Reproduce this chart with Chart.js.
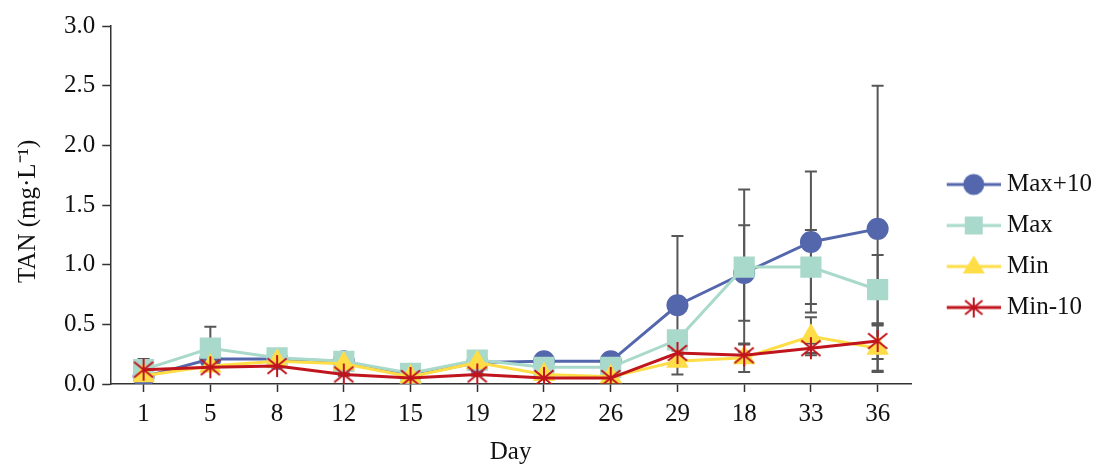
<!DOCTYPE html>
<html>
<head>
<meta charset="utf-8">
<script src="https://cdn.jsdelivr.net/npm/chart.js@4.4.1/dist/chart.umd.min.js"></script>
<style>
  body { margin: 0; background: #fff; }
  #wrap { width: 1099px; height: 465px; }
</style>
</head>
<body>
<div id="wrap"><canvas id="tanChart"></canvas></div>
<script>
// sampling days (in the order the figure shows them)
const days = ['1', '5', '8', '12', '15', '19', '22', '26', '29', '18', '33', '36'];

// TAN means and standard deviations per treatment
const maxPlus10    = [0.06, 0.21, 0.21, 0.19, 0.07, 0.18, 0.19, 0.19, 0.66, 0.93, 1.19, 1.30];
const maxPlus10Err = [0.02, 0.02, 0.02, 0.02, 0.01, 0.02, 0.03, 0.03, 0.58, 0.40, 0.59, 1.20];
const maxVals      = [0.12, 0.30, 0.22, 0.19, 0.09, 0.20, 0.14, 0.14, 0.37, 0.98, 0.98, 0.79];
const maxErr       = [0.09, 0.18, 0.02, 0.02, 0.01, 0.02, 0.01, 0.01, 0.03, 0.65, 0.31, 0.29];
const minVals      = [0.07, 0.15, 0.19, 0.17, 0.06, 0.18, 0.08, 0.06, 0.19, 0.22, 0.40, 0.30];
const minErr       = [0.01, 0.01, 0.01, 0.01, 0.01, 0.01, 0.01, 0.01, 0.02, 0.12, 0.16, 0.19];
const min10Vals    = [0.12, 0.14, 0.15, 0.08, 0.05, 0.08, 0.05, 0.05, 0.26, 0.24, 0.30, 0.36];
const min10Err     = [0.01, 0.01, 0.01, 0.01, 0.01, 0.01, 0.01, 0.01, 0.02, 0.03, 0.04, 0.15];

const yTicks = [0, 0.5, 1.0, 1.5, 2.0, 2.5, 3.0];

const BLUE = '#5467ad', TEAL = '#a9d9ca', YELLOW = '#fedd47', RED = '#c0151d';
const FONT = 'Liberation Serif';

// six-ray asterisk used for the Min-10 markers
function starCanvas(size, color) {
  const c = document.createElement('canvas');
  c.width = size; c.height = size;
  const g = c.getContext('2d');
  const r = size / 2 - 1, m = size / 2;
  g.strokeStyle = color; g.lineWidth = 2;
  g.beginPath();
  g.moveTo(m, m - r); g.lineTo(m, m + r);
  g.moveTo(m - r * 0.87, m - r * 0.7); g.lineTo(m + r * 0.87, m + r * 0.7);
  g.moveTo(m - r * 0.87, m + r * 0.7); g.lineTo(m + r * 0.87, m - r * 0.7);
  g.stroke();
  return c;
}
const starImg = starCanvas(24, RED);

// legend icon: line with marker; the transparent left part is spacing
function legendIcon(color, kind) {
  const c = document.createElement('canvas');
  c.width = 80; c.height = 26;
  const g = c.getContext('2d');
  const x0 = 26, x1 = 80, cx = 53, cy = 13;
  g.strokeStyle = color; g.lineWidth = 3;
  g.beginPath(); g.moveTo(x0, cy); g.lineTo(x1, cy); g.stroke();
  g.fillStyle = color;
  if (kind === 'circle') {
    g.beginPath(); g.arc(cx, cy, 10.5, 0, Math.PI * 2); g.fill();
  } else if (kind === 'rect') {
    g.fillRect(cx - 9, cy - 9, 18, 18);
  } else if (kind === 'triangle') {
    g.beginPath(); g.moveTo(cx, cy - 11); g.lineTo(cx + 11, cy + 7); g.lineTo(cx - 11, cy + 7); g.closePath(); g.fill();
  } else {
    g.drawImage(starCanvas(22, color), cx - 11, cy - 11);
  }
  return c;
}
const legendIcons = [
  legendIcon(BLUE, 'circle'),
  legendIcon(TEAL, 'rect'),
  legendIcon(YELLOW, 'triangle'),
  legendIcon(RED, 'star')
];

const errorBars = {
  id: 'errorBars',
  beforeDatasetsDraw(chart) {
    const ctx = chart.ctx, xs = chart.scales.x, ys = chart.scales.y;
    ctx.save();
    ctx.strokeStyle = '#575757';
    ctx.lineWidth = 2;
    chart.data.datasets.forEach(ds => {
      ds.data.forEach((v, i) => {
        const e = ds.errors[i];
        const x = xs.getPixelForValue(i);
        const top = ys.getPixelForValue(v + e), bot = ys.getPixelForValue(Math.max(0, v - e));
        ctx.beginPath();
        ctx.moveTo(x, top); ctx.lineTo(x, bot);
        ctx.moveTo(x - 6, top); ctx.lineTo(x + 6, top);
        if (v - e > 0) { ctx.moveTo(x - 6, bot); ctx.lineTo(x + 6, bot); }
        ctx.stroke();
      });
    });
    ctx.restore();
  }
};

new Chart(document.getElementById('tanChart'), {
  type: 'line',
  data: {
    labels: days,
    datasets: [
      { label: 'Max+10', data: maxPlus10, errors: maxPlus10Err, borderColor: BLUE, backgroundColor: BLUE,
        pointStyle: 'circle', pointRadius: 11, order: 4 },
      { label: 'Max', data: maxVals, errors: maxErr, borderColor: TEAL, backgroundColor: TEAL,
        pointStyle: 'rect', pointRadius: 15, order: 3 },
      { label: 'Min', data: minVals, errors: minErr, borderColor: YELLOW, backgroundColor: YELLOW,
        pointStyle: 'triangle', pointRadius: 13, order: 2 },
      { label: 'Min-10', data: min10Vals, errors: min10Err, borderColor: RED, backgroundColor: RED,
        pointStyle: starImg, pointRadius: 12, order: 1 }
    ]
  },
  options: {
    responsive: true,
    maintainAspectRatio: false,
    animation: false,
    layout: { padding: { left: 13, right: 0, top: 26, bottom: 0 } },
    elements: {
      line: { borderWidth: 3, tension: 0 },
      point: { borderWidth: 0, hoverRadius: 12 }
    },
    scales: {
      x: {
        type: 'category',
        offset: true,
        grid: { drawOnChartArea: false, offset: false, tickLength: 8, tickColor: '#333', tickWidth: 1.5 },
        border: { color: '#333', width: 1.5 },
        ticks: { color: '#111', font: { family: FONT, size: 25 }, padding: 7, maxRotation: 0 },
        title: { display: true, text: 'Day', color: '#111', font: { family: FONT, size: 25, lineHeight: 1 },
          padding: { top: 4, bottom: 0 } }
      },
      y: {
        min: 0,
        max: 3,
        afterBuildTicks(scale) { scale.ticks = yTicks.map(v => ({ value: v })); },
        grid: { drawOnChartArea: false, tickLength: 8, tickColor: '#333', tickWidth: 1.5 },
        border: { color: '#333', width: 1.5 },
        ticks: { color: '#111', font: { family: FONT, size: 25 }, padding: 7,
          callback: v => Number(v).toFixed(1) },
        title: { display: true, text: 'TAN (mg·L⁻¹)\u2002', color: '#111', font: { family: FONT, size: 25 },
          padding: { top: 0, bottom: 14 } }
      }
    },
    plugins: {
      tooltip: { enabled: false },
      legend: {
        position: 'right',
        align: 'center',
        maxWidth: 188,
        title: { display: true, text: '', font: { size: 1, lineHeight: 1 }, padding: { top: 0, bottom: 0 } },
        labels: {
          usePointStyle: true,
          pointStyleWidth: 67.5,
          padding: 16,
          color: '#111',
          font: { family: FONT, size: 25 },
          generateLabels(chart) {
            const items = Chart.defaults.plugins.legend.labels.generateLabels(chart);
            items.sort((a, b) => a.datasetIndex - b.datasetIndex);
            items.forEach(it => { it.pointStyle = legendIcons[it.datasetIndex]; });
            return items;
          }
        }
      }
    }
  },
  plugins: [errorBars]
});
</script>
</body>
</html>
